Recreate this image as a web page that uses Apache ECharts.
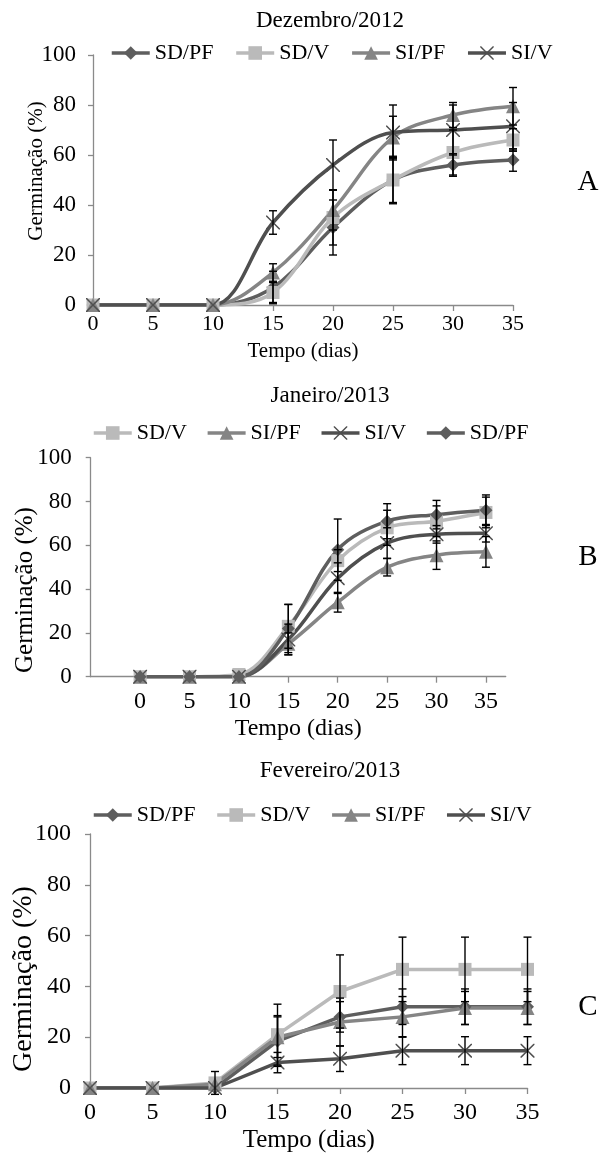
<!DOCTYPE html>
<html>
<head>
<meta charset="utf-8">
<title>Germinação</title>
<script src="https://cdn.jsdelivr.net/npm/echarts@6/dist/echarts.min.js"></script>
<style>
html, body { margin: 0; padding: 0; background: #fff; }
#main { width: 602px; height: 1157px; }
</style>
</head>
<body>
<div id="main"></div>
<script>
var dias = [0, 5, 10, 15, 20, 25, 30, 35];
var ticksX = [0, 5, 10, 15, 20, 25, 30, 35];

// Dezembro/2012
var dezSDPF = [0, 0, 0, 7, 31, 50, 56, 58];
var dezSDPFerr = [0, 0, 0, 6.5, 11, 9.5, 4.5, 4.5];
var dezSDV = [0, 0, 0, 5, 35, 50, 61, 66];
var dezSDVerr = [0, 0, 0, 4, 11, 9, 9, 4.5];
var dezSIPF = [0, 0, 0, 13, 38, 67, 76, 79.5];
var dezSIPFerr = [0, 0, 0, 3.5, 8, 8.5, 5, 7.5];
var dezSIV = [0, 0, 0, 33, 56, 69, 70, 71.5];
var dezSIVerr = [0, 0, 0, 4.7, 10, 11, 10, 9.5];

// Janeiro/2013
var janSDV = [0, 0, 1, 23, 53, 68, 71, 75];
var janSDVerr = [0, 0, 0, 10, 5, 8, 7, 7];
var janSIPF = [0, 0, 0, 15, 34, 50, 55.5, 57];
var janSIPFerr = [0, 0, 0, 5, 4.5, 4, 6.5, 7];
var janSIV = [0, 0, 0, 17, 45, 61, 65, 65.5];
var janSIVerr = [0, 0, 0, 7, 7, 7, 4, 4];
var janSDPF = [0, 0, 0, 22, 58, 71, 74, 76];
var janSDPFerr = [0, 0, 0, 11, 14, 8, 6.5, 7];

// Fevereiro/2013
var fevSDPF = [0, 0, 0, 18.5, 28, 32, 32, 32];
var fevSDPFerr = [0, 0, 0, 10, 6, 7, 7, 7];
var fevSDV = [0, 0, 2, 21, 38, 46.7, 46.7, 46.7];
var fevSDVerr = [0, 0, 4.5, 12, 14.4, 12.7, 12.7, 12.7];
var fevSIPF = [0, 0, 1.5, 20, 26, 28, 31.5, 31.5];
var fevSIPFerr = [0, 0, 0, 8, 9.4, 8, 6.5, 6.5];
var fevSIV = [0, 0, 0, 10, 11.5, 14.7, 14.7, 14.7];
var fevSIVerr = [0, 0, 0, 4, 5, 5.5, 5.5, 5.5];

var fonte = '"Liberation Serif", "Times New Roman", serif';
// X fino (SI/V)
var xis = 'path://M0,0 L1.5,0 L10,8.5 L18.5,0 L20,0 L20,1.5 L11.5,10 L20,18.5 L20,20 L18.5,20 L10,11.5 L1.5,20 L0,20 L0,18.5 L8.5,10 L0,1.5 Z';

var estilo = {
    'SD/PF': { cor: '#5e5e5e', simbolo: 'diamond', tam: 13 },
    'SD/V': { cor: '#bababa', simbolo: 'rect', tam: 13 },
    'SI/PF': { cor: '#858585', simbolo: 'triangle', tam: 14 },
    'SI/V': { cor: '#4f4f4f', simbolo: xis, tam: 14 }
};

var series = [];
function linha(g, nome, vals, errs, suave) {
    var e = estilo[nome];
    var pts = [];
    var barras = [];
    for (var i = 0; i < dias.length; i++) {
        pts.push([dias[i], vals[i]]);
        if (errs[i] > 0) barras.push([dias[i], vals[i] - errs[i], vals[i] + errs[i]]);
    }
    series.push({
        name: nome,
        type: 'line',
        xAxisIndex: g,
        yAxisIndex: g,
        data: pts,
        smooth: suave ? 0.35 : false,
        symbol: e.simbolo,
        symbolSize: e.tam,
        symbolKeepAspect: true,
        showAllSymbol: true,
        lineStyle: { color: e.cor, width: 3.5 },
        itemStyle: { color: e.cor },
        emphasis: { disabled: true },
        z: 2
    });
    // barras de erro
    series.push({
        name: nome + ' erro',
        type: 'custom',
        xAxisIndex: g,
        yAxisIndex: g,
        data: barras,
        encode: { x: 0, y: [1, 2] },
        z: 3,
        silent: true,
        renderItem: function (params, api) {
            var x = api.value(0);
            var lo = api.coord([x, api.value(1)]);
            var hi = api.coord([x, api.value(2)]);
            var w = 4;
            var st = { stroke: '#000', lineWidth: 1.4 };
            return {
                type: 'group',
                children: [
                    { type: 'line', shape: { x1: lo[0], y1: lo[1], x2: hi[0], y2: hi[1] }, style: st },
                    { type: 'line', shape: { x1: lo[0] - w, y1: lo[1], x2: lo[0] + w, y2: lo[1] }, style: st },
                    { type: 'line', shape: { x1: hi[0] - w, y1: hi[1], x2: hi[0] + w, y2: hi[1] }, style: st }
                ]
            };
        }
    });
}

linha(0, 'SD/PF', dezSDPF, dezSDPFerr, true);
linha(0, 'SD/V', dezSDV, dezSDVerr, true);
linha(0, 'SI/PF', dezSIPF, dezSIPFerr, true);
linha(0, 'SI/V', dezSIV, dezSIVerr, true);

linha(1, 'SD/V', janSDV, janSDVerr, true);
linha(1, 'SI/PF', janSIPF, janSIPFerr, true);
linha(1, 'SI/V', janSIV, janSIVerr, true);
linha(1, 'SD/PF', janSDPF, janSDPFerr, true);

linha(2, 'SD/PF', fevSDPF, fevSDPFerr, false);
linha(2, 'SD/V', fevSDV, fevSDVerr, false);
linha(2, 'SI/PF', fevSIPF, fevSIPFerr, false);
linha(2, 'SI/V', fevSIV, fevSIVerr, false);

var eixoCor = '#8a8a8a';
function eixoX(g, min, max, fs, margem, nomeFs, gap) {
    return {
        type: 'value', gridIndex: g, min: min, max: max, interval: 5,
        splitLine: { show: false },
        axisLine: { show: true, onZero: false, lineStyle: { color: eixoCor, width: 1.3 } },
        axisTick: { show: true, length: 6, customValues: ticksX, lineStyle: { color: eixoCor, width: 1.3 } },
        axisLabel: {
            color: '#000', fontFamily: fonte, fontSize: fs, margin: margem, customValues: ticksX,
            formatter: function (v) { return (v < 0 || v > 35) ? '' : String(v); }
        },
        name: 'Tempo (dias)', nameLocation: 'middle', nameGap: gap,
        nameTextStyle: { color: '#000', fontFamily: fonte, fontSize: nomeFs }
    };
}
function eixoY(g, fs, margem) {
    return {
        type: 'value', gridIndex: g, min: 0, max: 100, interval: 20,
        splitLine: { show: false },
        axisLine: { show: true, onZero: false, lineStyle: { color: eixoCor, width: 1.3 } },
        axisTick: { show: true, length: 5, lineStyle: { color: eixoCor, width: 1.3 } },
        axisLabel: { color: '#000', fontFamily: fonte, fontSize: fs, margin: margem }
    };
}
function legenda(left, top, gap, nomes) {
    return {
        left: left, top: top, itemWidth: 38, itemHeight: 17, itemGap: gap,
        selectedMode: false, padding: 0,
        lineStyle: { width: 3.5 },
        textStyle: { color: '#000', fontFamily: fonte, fontSize: 22 },
        data: nomes
    };
}
function titulo(texto, top) {
    return {
        text: texto, left: 325, top: top, textAlign: 'center',
        textStyle: { color: '#000', fontFamily: fonte, fontSize: 23, fontWeight: 'normal' }
    };
}
function rotulo(texto, x, y, fs, rot) {
    return {
        type: 'text', x: x, y: y, rotation: rot ? Math.PI / 2 : 0,
        style: {
            text: texto, fill: '#000', font: fs + 'px ' + fonte,
            align: 'center', verticalAlign: 'middle'
        }
    };
}

var chart = echarts.init(document.getElementById('main'), null, { renderer: 'canvas' });
chart.setOption({
    backgroundColor: '#fff',
    animation: false,
    title: [
        titulo('Dezembro/2012', 4),
        titulo('Janeiro/2013', 379),
        titulo('Fevereiro/2013', 754)
    ],
    legend: [
        legenda(110, 42, 21, ['SD/PF', 'SD/V', 'SI/PF', 'SI/V']),
        legenda(92, 422, 19, ['SD/V', 'SI/PF', 'SI/V', 'SD/PF']),
        legenda(92, 804, 20, ['SD/PF', 'SD/V', 'SI/PF', 'SI/V'])
    ],
    grid: [
        { left: 93, top: 55, width: 420, height: 250, containLabel: false, outerBoundsMode: 'none' },
        { left: 90.7, top: 457.7, width: 415, height: 219, containLabel: false, outerBoundsMode: 'none' },
        { left: 90, top: 834, width: 437.5, height: 254, containLabel: false, outerBoundsMode: 'none' }
    ],
    xAxis: [
        eixoX(0, 0, 35, 22, 8, 21, 36),
        eixoX(1, -5, 37, 24, 13, 24, 40),
        eixoX(2, 0, 35, 24, 13, 25, 40)
    ],
    yAxis: [
        eixoY(0, 23, 17),
        eixoY(1, 23, 19),
        eixoY(2, 24, 19)
    ],
    graphic: [
        rotulo('Germinação (%)', 36, 171, 21, true),
        rotulo('Germinação (%)', 25, 590, 25, true),
        rotulo('Germinação (%)', 24, 979, 28, true),
        rotulo('A', 588, 182, 29, false),
        rotulo('B', 588, 557, 29, false),
        rotulo('C', 588, 1007, 29, false)
    ],
    series: series
});
</script>
</body>
</html>
